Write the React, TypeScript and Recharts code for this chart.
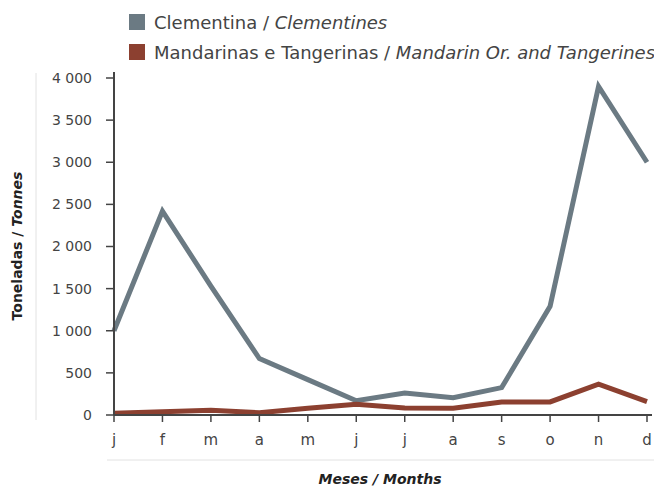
import React from "react";
import { LineChart, Line, XAxis, YAxis } from "recharts";

const months = ["j", "f", "m", "a", "m", "j", "j", "a", "s", "o", "n", "d"];
const clementines = [1000, 2420, 1530, 670, 420, 170, 262, 206, 325, 1290, 3900, 3000];
const mandarins = [20, 40, 55, 27, 80, 127, 82, 80, 155, 155, 365, 158];
const yTicks = [0, 500, 1000, 1500, 2000, 2500, 3000, 3500, 4000];

const GREY = "#6b7a83";
const RED = "#8c4030";
const AXIS = "#444444";
const FONT = "'DejaVu Sans', sans-serif";

const data = months.map((m, i) => ({
  key: i,
  month: m,
  clementines: clementines[i],
  mandarins: mandarins[i],
}));

const legendItems = [
  { color: GREY, pt: "Clementina / ", en: "Clementines" },
  { color: RED, pt: "Mandarinas e Tangerinas / ", en: "Mandarin Or. and Tangerines" },
];

const fmt = (v: number) => (v >= 1000 ? `${Math.floor(v / 1000)} ${String(v % 1000).padStart(3, "0")}` : `${v}`);

function YTitle() {
  return (
    <g>
      <line x1={36} y1={73} x2={36} y2={420} stroke="#e2e2e2" strokeWidth={1} />
      <text
        x={17}
        y={246}
        transform="rotate(-90, 17, 246)"
        textAnchor="middle"
        dominantBaseline="central"
        fontFamily={FONT}
        fontSize={14}
        fontWeight="bold"
        fill="#222"
      >
        Toneladas / <tspan fontStyle="italic">Tonnes</tspan>
      </text>
    </g>
  );
}

function XTitle() {
  return (
    <g>
      <line x1={107} y1={460} x2={654} y2={460} stroke="#e2e2e2" strokeWidth={1} />
      <text
        x={380}
        y={479}
        textAnchor="middle"
        dominantBaseline="central"
        fontFamily={FONT}
        fontSize={14}
        fontWeight="bold"
        fontStyle="italic"
        fill="#222"
      >
        Meses / Months
      </text>
    </g>
  );
}

export default function App() {
  return (
    <div style={{ position: "absolute", left: 0, top: 0, width: 654, height: 487, background: "#fff" }}>
      <div style={{ position: "absolute", left: 129, top: 7, fontFamily: FONT, fontSize: 18, color: "#444" }}>
        {legendItems.map((it) => (
          <div key={it.en} style={{ display: "flex", alignItems: "center", height: 30 }}>
            <span style={{ width: 16, height: 16, background: it.color, marginRight: 9, display: "inline-block" }} />
            <span style={{ whiteSpace: "nowrap" }}>
              {it.pt}
              <i>{it.en}</i>
            </span>
          </div>
        ))}
      </div>
      <LineChart width={654} height={487} data={data} margin={{ top: 72, right: 2, left: 0, bottom: 0 }}>
        <XAxis
          dataKey="key"
          tickFormatter={(i: number) => months[i]}
          height={72}
          padding={{ left: 0, right: 5 }}
          axisLine={{ stroke: AXIS, strokeWidth: 2 }}
          tickLine={{ stroke: AXIS, strokeWidth: 1.5 }}
          tickSize={7}
          tickMargin={12}
          interval={0}
          tick={{ fontSize: 15, fill: "#444", fontFamily: FONT }}
          label={<XTitle />}
        />
        <YAxis
          domain={[0, 4000]}
          ticks={yTicks}
          tickFormatter={fmt}
          width={114}
          padding={{ top: 6 }}
          axisLine={{ stroke: AXIS, strokeWidth: 2 }}
          tickLine={{ stroke: AXIS, strokeWidth: 1.5 }}
          tickSize={8}
          tickMargin={14}
          tick={{ fontSize: 14, fill: "#444", fontFamily: FONT }}
          label={<YTitle />}
        />
        <Line
          type="linear"
          dataKey="clementines"
          stroke={GREY}
          strokeWidth={5}
          dot={false}
          activeDot={false}
          isAnimationActive={false}
        />
        <Line
          type="linear"
          dataKey="mandarins"
          stroke={RED}
          strokeWidth={5}
          dot={false}
          activeDot={false}
          isAnimationActive={false}
        />
      </LineChart>
    </div>
  );
}
